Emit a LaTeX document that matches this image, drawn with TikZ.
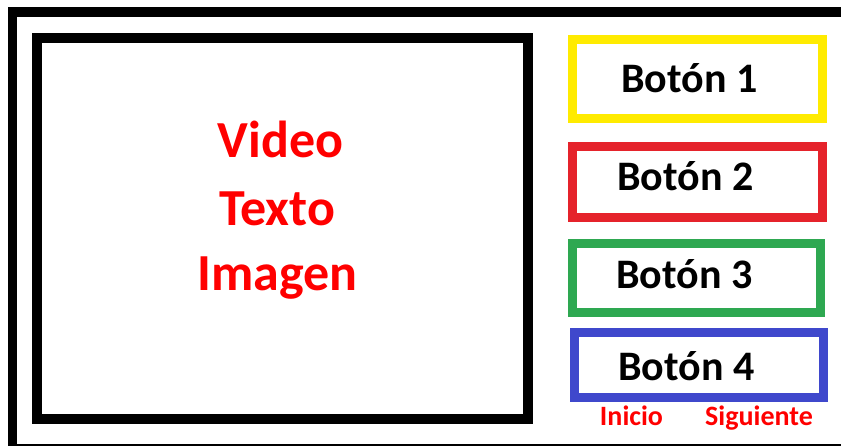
\documentclass[tikz,border=0pt]{standalone}
\usepackage{fontspec}
\setmainfont{Carlito}
\definecolor{yel}{HTML}{FFEB00}
\definecolor{rbox}{HTML}{E5232B}
\definecolor{gbox}{HTML}{2EA851}
\definecolor{bbox}{HTML}{3F48CC}
\definecolor{rtext}{HTML}{FF0000}
\begin{document}
\begin{tikzpicture}[x=1pt,y=-1pt,
  box/.style={draw, line width=9pt, minimum width=#1, inner sep=0, outer sep=0, fill=white},
  btntext/.style={anchor=base, inner sep=0, font=\bfseries\fontsize{42}{42}\selectfont, text=black},
  bigtext/.style={anchor=base, inner sep=0, font=\bfseries\fontsize{52}{52}\selectfont, text=rtext},
  navtext/.style={anchor=base, inner sep=0, font=\bfseries\fontsize{28}{28}\selectfont, text=rtext}]
\useasboundingbox (0,0) rectangle (841,445);
\clip (0,0) rectangle (841,445);
\fill[white] (0,0) rectangle (841,445);
% outer frame (cut at right and bottom)
\node[box=837.5pt, minimum height=437pt, draw=black, fill=none, line width=9.5pt] (frame) at (431.25,230.5) {};
% video area
\node[box=491pt, minimum height=381pt, draw=black, line width=10pt] (video) at (282.5,228.5) {};
\node[bigtext] (tvideo) at (280.5,157) {Video};
\node[bigtext] (ttexto) at (277,225) {Texto};
\node[bigtext] (timagen) at (277.5,290) {Imagen};
% buttons
\node[box=250pt, minimum height=79pt, draw=yel] (b1) at (697.5,79) {};
\node[box=250pt, minimum height=71pt, draw=rbox] (b2) at (697.5,182) {};
\node[box=248pt, minimum height=69pt, draw=gbox] (b3) at (696.5,278) {};
\node[box=249pt, minimum height=65pt, draw=bbox] (b4) at (699,365) {};
\node[btntext] (t1) at (689.5,92) {Botón 1};
\node[btntext] (t2) at (685.5,190) {Botón 2};
\node[btntext] (t3) at (684.5,288) {Botón 3};
\node[btntext] (t4) at (686.5,380) {Botón 4};
% navigation
\node[navtext] (inicio) at (631.5,425) {Inicio};
\node[navtext] (sig) at (759,425) {Siguiente};
\end{tikzpicture}
\end{document}
